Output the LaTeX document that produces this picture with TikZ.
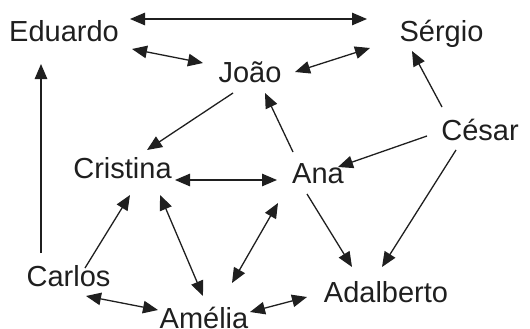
\documentclass[tikz,border=0pt]{standalone}
\usepackage{fontspec}
\setmainfont{Liberation Sans}
\usetikzlibrary{arrows.meta}
\begin{document}
\begin{tikzpicture}[x=1pt,y=-1pt,
  person/.style={anchor=base,inner sep=0pt,font=\fontsize{29}{33}\selectfont,text=black!88},
  tip/.style={},
  conn/.style={line width=1.3pt,draw=black!88,-{Triangle[length=15pt,width=12.5pt]}},
  dbl/.style={conn,{Triangle[length=15pt,width=12.5pt]}-{Triangle[length=15pt,width=12.5pt]}}]
\useasboundingbox (0,0) rectangle (530,329);
\node[person] (Eduardo) at (64,42) {Eduardo};
\node[person] (Sergio) at (441.5,42) {Sérgio};
\node[person] (Joao) at (250,82) {João};
\node[person] (Cesar) at (480,140) {César};
\node[person] (Cristina) at (122.5,178) {Cristina};
\node[person] (Ana) at (318,183) {Ana};
\node[person] (Carlos) at (68.5,286) {Carlos};
\node[person] (Adalberto) at (386,302) {Adalberto};
\node[person] (Amelia) at (204,328) {Amélia};

\draw[dbl] ([shift={(66,-23)}]Eduardo.base) -- ([shift={(-74.5,-23)}]Sergio.base);
\draw[dbl] ([shift={(68,7)}]Eduardo.base) -- ([shift={(-47,-19)}]Joao.base);
\draw[dbl] ([shift={(45,-10)}]Joao.base) -- ([shift={(-71.5,6)}]Sergio.base);
\draw[conn] ([shift={(-38,-33)}]Cesar.base) -- ([shift={(-29.5,9)}]Sergio.base);
\draw[conn] ([shift={(-27.5,-33)}]Carlos.base) -- ([shift={(-23,22)}]Eduardo.base);
\draw[conn] ([shift={(-17,11)}]Joao.base) -- ([shift={(24.5,-28)}]Cristina.base);
\draw[conn] ([shift={(-25,-31)}]Ana.base) -- ([shift={(15,11)}]Joao.base);
\draw[conn] ([shift={(-53,-4)}]Cesar.base) -- ([shift={(20,-16)}]Ana.base);
\draw[dbl] ([shift={(52.5,2)}]Cristina.base) -- ([shift={(-41,-3)}]Ana.base);
\draw[conn] ([shift={(-24,10)}]Cesar.base) -- ([shift={(-4,-35)}]Adalberto.base);
\draw[conn] ([shift={(-11,11)}]Ana.base) -- ([shift={(-34,-35)}]Adalberto.base);
\draw[conn] ([shift={(16.5,-18)}]Carlos.base) -- ([shift={(7.5,17)}]Cristina.base);
\draw[dbl] ([shift={(37.5,17)}]Cristina.base) -- ([shift={(-1,-32)}]Amelia.base);
\draw[dbl] ([shift={(-40,20)}]Ana.base) -- ([shift={(28,-45)}]Amelia.base);
\draw[dbl] ([shift={(17.5,10)}]Carlos.base) -- ([shift={(-46,-18)}]Amelia.base);
\draw[dbl] ([shift={(46,-16)}]Amelia.base) -- ([shift={(-79,-5)}]Adalberto.base);
\end{tikzpicture}
\end{document}
